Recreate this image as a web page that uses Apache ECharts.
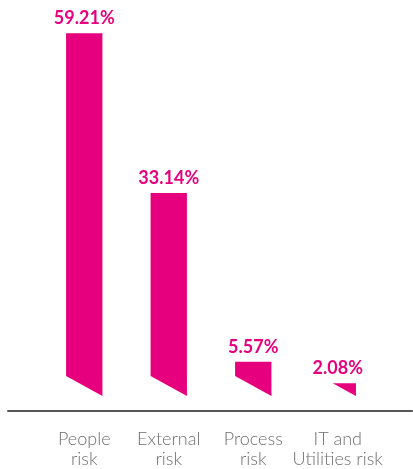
<!DOCTYPE html>
<html>
<head>
<meta charset="utf-8">
<style>
  html, body { margin: 0; padding: 0; background: #ffffff; }
  #chart { width: 413px; height: 469px; }
</style>
<script src="https://cdn.jsdelivr.net/npm/echarts@6/dist/echarts.min.js"></script>
</head>
<body>
<div id="chart"></div>
<script>
// Share of incidents by risk category (%)
const categories = ['People\nrisk', 'External\nrisk', 'Process\nrisk', 'IT and\nUtilities risk'];
const shares = [59.21, 33.14, 5.57, 2.08];

const MAGENTA = '#E6007E';
const SLANT = 20; // how far the bottom-left corner of each bar is lifted

const chart = echarts.init(document.getElementById('chart'));

function renderBar(params, api) {
  const idx = api.value(0);
  const val = api.value(1);
  const top = api.coord([idx, val]);
  const base = api.coord([idx, 0]);
  const band = api.size([1, 0])[0];
  const w = band * 0.43;
  const xl = top[0] - w / 2;
  const xr = top[0] + w / 2;
  const yt = top[1];
  const y0 = base[1];
  const yCut = y0 - SLANT;
  let points;
  if (yt <= yCut) {
    points = [[xl, yt], [xr, yt], [xr, y0], [xl, yCut]];
  } else {
    const xs = xl + (yt - yCut) / SLANT * w;
    points = [[xs, yt], [xr, yt], [xr, y0]];
  }
  return {
    type: 'group',
    children: [
      {
        type: 'polygon',
        shape: { points: points },
        style: { fill: MAGENTA }
      },
      {
        type: 'text',
        x: top[0],
        y: yt - 6,
        style: {
          text: val.toFixed(2) + '%',
          fill: MAGENTA,
          font: 'bold 18px Lato, "DejaVu Sans", sans-serif',
          align: 'center',
          verticalAlign: 'bottom'
        }
      }
    ]
  };
}

chart.setOption({
  animation: false,
  backgroundColor: '#ffffff',
  grid: [
    { left: 42, width: 338, top: 28.3, bottom: 69 },
    { left: 8, right: 1, top: 28.3, bottom: 69 }
  ],
  xAxis: [
    {
      type: 'category',
      gridIndex: 0,
      data: categories,
      axisLine: { show: false },
      axisTick: { show: false },
      axisLabel: {
        interval: 0,
        margin: 33,
        color: '#6e6e6e',
        fontFamily: 'Lato, "DejaVu Sans", sans-serif',
        fontWeight: 300,
        fontSize: 18,
        lineHeight: 20,
        align: 'center'
      }
    },
    {
      type: 'value',
      gridIndex: 1,
      offset: 11,
      axisLine: { show: true, onZero: false, lineStyle: { color: '#555555', width: 2 } },
      axisTick: { show: false },
      axisLabel: { show: false },
      splitLine: { show: false }
    }
  ],
  yAxis: [
    { type: 'value', gridIndex: 0, min: 0, max: 60, show: false },
    { type: 'value', gridIndex: 1, show: false }
  ],
  series: [
    {
      type: 'custom',
      xAxisIndex: 0,
      yAxisIndex: 0,
      renderItem: renderBar,
      data: shares.map((v, i) => [i, v]),
      clip: false
    }
  ]
});
</script>
</body>
</html>
